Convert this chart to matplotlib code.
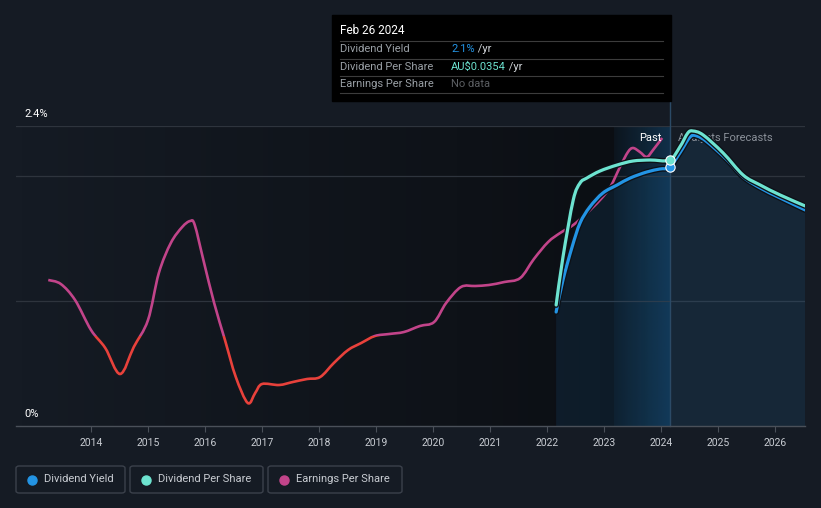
import matplotlib.pyplot as plt
import matplotlib.patheffects as pe
import numpy as np
from matplotlib.colors import to_rgb
from matplotlib.lines import Line2D
from matplotlib.patches import FancyBboxPatch, PathPatch, Rectangle
from matplotlib.path import Path
from matplotlib.text import Annotation

plt.rcParams['font.family'] = ['Roboto', 'DejaVu Sans']

# --- dati (unita' dell'asse: 0 .. 2.4 "%") ---
EPS_X = [2013.25, 2013.47, 2013.72, 2014.00, 2014.25, 2014.51, 2014.75, 2015.00,
         2015.19, 2015.40, 2015.60, 2015.74, 2015.82, 2015.98, 2016.16, 2016.35,
         2016.54, 2016.75, 2016.88, 2017.00, 2017.30, 2017.54, 2017.79, 2018.02,
         2018.26, 2018.51, 2018.74, 2018.98, 2019.23, 2019.49, 2019.77, 2020.02,
         2020.23, 2020.49, 2020.74, 2020.98, 2021.25, 2021.53, 2021.77, 2022.02,
         2022.23, 2022.46, 2022.70, 2022.93, 2023.11, 2023.28, 2023.42, 2023.51,
         2023.63, 2023.75, 2023.86, 2024.02]
EPS_Y = [1.168, 1.136, 1.008, 0.768, 0.624, 0.416, 0.632, 0.848,
         1.224, 1.464, 1.592, 1.640, 1.608, 1.312, 0.984, 0.688,
         0.392, 0.184, 0.264, 0.336, 0.328, 0.352, 0.376, 0.392,
         0.504, 0.608, 0.664, 0.720, 0.736, 0.752, 0.800, 0.832,
         0.984, 1.112, 1.120, 1.128, 1.152, 1.184, 1.336, 1.472,
         1.544, 1.608, 1.704, 1.808, 1.912, 2.072, 2.192, 2.224,
         2.192, 2.152, 2.208, 2.304]
EPS_THRESHOLD = 0.72   # sotto questa soglia la linea e' rossa

DY_X = [2022.16, 2022.28, 2022.44, 2022.58, 2022.75, 2022.98, 2023.23, 2023.46,
        2023.75, 2023.98, 2024.15, 2024.33, 2024.51, 2024.63, 2024.81, 2025.16,
        2025.44, 2025.74, 2026.09, 2026.53]
DY_Y = [0.912, 1.168, 1.432, 1.624, 1.752, 1.864, 1.928, 1.984,
        2.032, 2.056, 2.070, 2.184, 2.312, 2.320, 2.272, 2.128,
        1.992, 1.904, 1.824, 1.728]

DPS_X = [2022.16, 2022.28, 2022.46, 2022.58, 2022.70, 2022.93, 2023.23, 2023.51,
         2023.81, 2024.15, 2024.33, 2024.47, 2024.56, 2024.74, 2025.09, 2025.44,
         2025.74, 2026.09, 2026.53]
DPS_Y = [0.968, 1.352, 1.808, 1.944, 1.984, 2.040, 2.088, 2.120,
         2.128, 2.128, 2.232, 2.344, 2.360, 2.328, 2.184, 2.008,
         1.928, 1.848, 1.760]

YEARS = list(range(2014, 2027))
TODAY = 2024.15
BAND_START = 2023.175
X0, X1 = 2012.684, 2026.526
YMAX = 2.4

TIP_DATE = "Feb 26 2024"
TIP_ROWS = [("Dividend Yield", "2.1%", " /yr"),
            ("Dividend Per Share", "AU$0.0354", " /yr"),
            ("Earnings Per Share", "No data", "")]
LEGEND = ["Dividend Yield", "Dividend Per Share", "Earnings Per Share"]

# --- stile ---
BG = '#151b24'
GRID = '#2e343d'
BLUE = '#2394e4'
TEAL = '#6de3d0'
MAGENTA = '#c2448a'
RED = '#e8413b'
TXT = '#c8ccd2'

W, H = 821, 508
def fx(x): return x / W
def fy(y): return 1 - y / H


def curva(xs, ys, chiudi=False):
    """Path liscio (bezier catmull-rom) che passa per i punti."""
    p = np.column_stack([xs, ys])
    verts, codes = [p[0]], [Path.MOVETO]
    for i in range(len(p) - 1):
        a = p[i - 1] if i > 0 else p[i]
        d = p[i + 2] if i + 2 < len(p) else p[i + 1]
        verts += [p[i] + (p[i + 1] - a) / 6, p[i + 1] - (d - p[i]) / 6, p[i + 1]]
        codes += [Path.CURVE4] * 3
    if chiudi:
        verts += [(xs[-1], 0), (xs[0], 0), p[0]]
        codes += [Path.LINETO, Path.LINETO, Path.CLOSEPOLY]
    return Path(verts, codes)


fig = plt.figure(figsize=(W / 100, H / 100), dpi=100, facecolor=BG)
ax = fig.add_axes([fx(16), fy(426), 789 / W, 300 / H])
ax.set_facecolor(BG)

# zona "passato": si scurisce verso destra
grad = np.zeros((1, 256, 4))
grad[..., 3] = np.linspace(0, 0.5, 256)
ax.imshow(grad, extent=[X0, TODAY, 0, YMAX], aspect='auto', zorder=0.5,
          interpolation='bilinear')
# banda azzurra dell'ultimo anno
band = np.zeros((1, 256, 4))
band[..., :3] = to_rgb('#1f82cc')
band[..., 3] = np.linspace(0.06, 0.3, 256)
ax.imshow(band, extent=[BAND_START, TODAY, 0, YMAX], aspect='auto', zorder=0.6,
          interpolation='bilinear')

for g in (1, 2, YMAX):
    ax.axhline(g, color=GRID, lw=0.9, zorder=1)

ax.add_patch(PathPatch(curva(DY_X, DY_Y, chiudi=True), facecolor=BLUE,
                       alpha=0.1, lw=0, zorder=1.5))

# EPS: magenta sopra soglia, rossa sotto
for col, y0, h in ((MAGENTA, EPS_THRESHOLD, 5), (RED, -5, 5 + EPS_THRESHOLD)):
    pp = ax.add_patch(PathPatch(curva(EPS_X, EPS_Y), fill=False, edgecolor=col,
                                lw=1.9, zorder=3, capstyle='butt', joinstyle='round'))
    pp.set_clip_path(Rectangle((X0 - 1, y0), X1 - X0 + 2, h, transform=ax.transData))

outline = [pe.Stroke(linewidth=4.2, foreground='#0d1117'), pe.Normal()]
for xs, ys, col, z in ((DY_X, DY_Y, BLUE, 4), (DPS_X, DPS_Y, TEAL, 4.1)):
    ax.add_patch(PathPatch(curva(xs, ys), fill=False, edgecolor=col, lw=2.3,
                           zorder=z, capstyle='round', joinstyle='round',
                           path_effects=outline))

ax.axvline(TODAY, ymin=0, ymax=(426 - 101) / 300, color='#2b4a66', lw=1,
           zorder=2, clip_on=False)
ax.scatter([TODAY], [DY_Y[DY_X.index(TODAY)]], s=45, color=BLUE,
           edgecolor='white', lw=0.8, zorder=6)
ax.scatter([TODAY], [DPS_Y[DPS_X.index(TODAY)]], s=45, color=TEAL,
           edgecolor='white', lw=0.8, zorder=6)

tr = ax.get_xaxis_transform()
ax.annotate("Past", xy=(TODAY, 0.96), xycoords=tr, xytext=(-6, 0),
            textcoords='offset points', ha='right', va='center',
            color='white', fontsize=8, zorder=7)
ax.annotate("Analysts Forecasts", xy=(TODAY, 0.96), xycoords=tr, xytext=(6, 0),
            textcoords='offset points', ha='left', va='center',
            color='#8a9099', fontsize=8, zorder=2.5)

ax.set_xlim(X0, X1)
ax.set_ylim(0, YMAX)
ax.set_yticks([])
ax.set_xticks(YEARS, [str(y) for y in YEARS])
ax.tick_params(axis='x', colors=TXT, labelsize=7.5, length=4, width=0.8,
               color='#4a5059', pad=5)
for s in ('top', 'right', 'left'):
    ax.spines[s].set_visible(False)
ax.spines['bottom'].set_color('#4a5059')
ax.spines['bottom'].set_linewidth(1)

fig.text(fx(24), fy(114), "2.4%", color='white', fontsize=8, va='center')
fig.text(fx(24), fy(414), "0%", color='white', fontsize=8, va='center')

# --- tooltip ---
fig.add_artist(Rectangle((fx(332), fy(101)), 339 / W, 86 / H,
                         transform=fig.transFigure, color='black', zorder=10))
fig.text(fx(340), fy(31), TIP_DATE, color='white', fontsize=8.5,
         va='center', zorder=11)
for yy in (41, 58.7, 76.3, 93.3):
    fig.add_artist(Line2D([fx(340), fx(663)], [fy(yy), fy(yy)], color='#3c3c3c',
                          lw=0.8, transform=fig.transFigure, zorder=11))
val_cols = [BLUE, TEAL, '#5c5f63']
for (lab, val, unit), yy, vc in zip(TIP_ROWS, (49, 66.7, 84.3), val_cols):
    fig.text(fx(340), fy(yy), lab, color='#9aa0a6', fontsize=8, va='center', zorder=11)
    t = fig.text(fx(451), fy(yy), val, color=vc, fontsize=8, va='center', zorder=11)
    if unit:
        an = Annotation(unit, xy=(1, 0.5), xycoords=t, va='center', ha='left',
                        color='#d0d4d8', fontsize=8, annotation_clip=False)
        an.set_zorder(11)
        fig.add_artist(an)

# --- legenda a riquadri ---
boxes = [(16, 125), (130, 263), (268, 402)]
for (x0, x1), lab, col in zip(boxes, LEGEND, [BLUE, TEAL, MAGENTA]):
    fig.add_artist(FancyBboxPatch((fx(x0), fy(493)), (x1 - x0) / W, 27 / H,
                                  boxstyle='round,pad=0,rounding_size=0.004',
                                  transform=fig.transFigure, facecolor='none',
                                  edgecolor='#3b414b', lw=1))
    fig.add_artist(Line2D([fx(x0 + 16)], [fy(479.5)], marker='o', ms=6.5,
                          color=col, transform=fig.transFigure))
    fig.text(fx(x0 + 28), fy(479.5), lab, color=TXT, fontsize=8, va='center')

fig.savefig("out.png", dpi=100, facecolor=BG)
